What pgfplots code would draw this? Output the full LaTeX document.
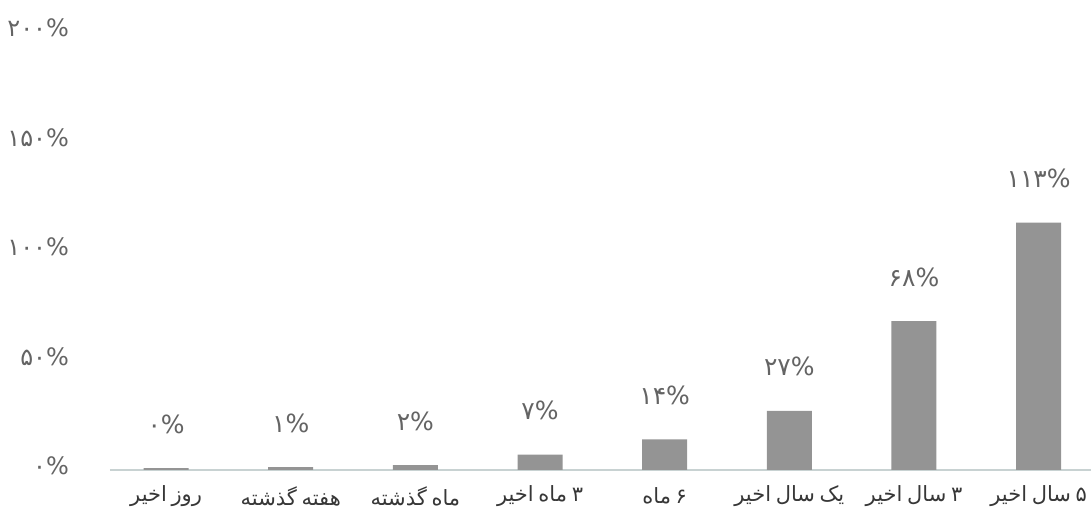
\documentclass[border=0pt]{standalone}
\usepackage{fontspec}
\usepackage{pgfplots}
\pgfplotsset{compat=1.18}
\TeXXeTstate=1
\newfontfamily\fa[Script=Arabic, WordSpace=0.7]{DejaVu Sans}
\definecolor{barc}{RGB}{148,148,148}
\definecolor{txt}{RGB}{55,55,55}
\definecolor{txtl}{RGB}{100,100,100}
\definecolor{basec}{RGB}{200,210,210}
\begin{document}
\begin{tikzpicture}
\begin{axis}[
  at={(0,0)}, anchor=south west,
  scale only axis, width=490.5pt, height=219pt,
  xmin=-0.45, xmax=7.42, ymin=0, ymax=200,
  axis lines=left,
  y axis line style={draw=none},
  x axis line style={draw=basec, line width=0.8pt, -},
  major tick length=0pt,
  xtick={0,...,7},
  xticklabels={{\beginR روز اخیر\endR},{\beginR هفته گذشته\endR},{\beginR ماه گذشته\endR},{\beginR ۳ ماه اخیر\endR},{\beginR ۶ ماه\endR},{\beginR یک سال اخیر\endR},{\beginR ۳ سال اخیر\endR},{\beginR ۵ سال اخیر\endR}},
  xticklabel style={font=\fa\fontsize{10.5}{12}\selectfont, text=txt, anchor=center, yshift=-13pt},
  ytick={0,50,100,150,200},
  yticklabels={۰\%,۵۰\%,۱۰۰\%,۱۵۰\%,۲۰۰\%},
  yticklabel style={font=\fa\fontsize{12}{14}\selectfont, text=txtl, anchor=east, xshift=-17pt, yshift=2pt},
  ybar, bar width=22.5pt,
  point meta=explicit symbolic,
  nodes near coords={\pgfplotspointmeta\%},
  nodes near coords style={font=\fa\fontsize{12.5}{14}\selectfont, text=txtl, anchor=center, yshift=22pt},
  clip=false,
]
\addplot[fill=barc, draw=none] coordinates {
(0,0.8) [۰] (1,1.3) [۱] (2,2.2) [۲] (3,7) [۷] (4,14) [۱۴] (5,27) [۲۷] (6,68) [۶۸] (7,113) [۱۱۳]
};
\end{axis}
\pgfresetboundingbox
\path[use as bounding box] (-55pt,-24pt) rectangle (490.5pt,235pt);
\end{tikzpicture}
\end{document}
